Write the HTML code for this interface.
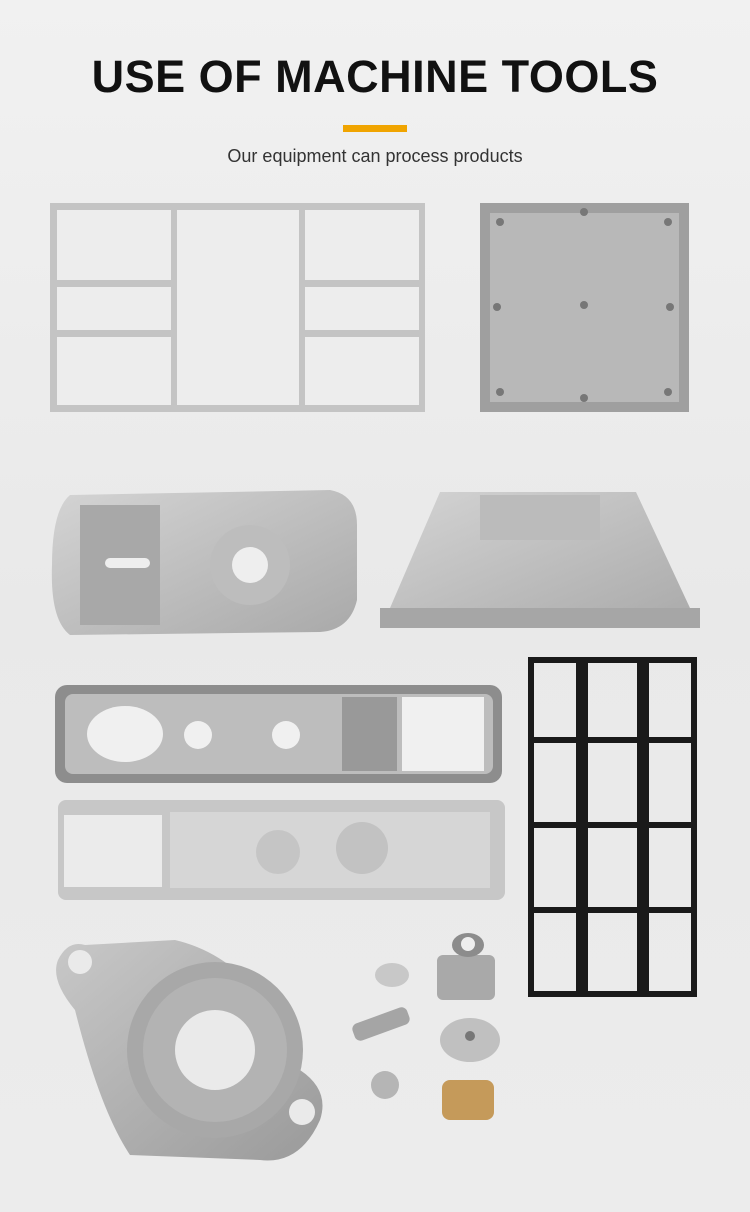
<!DOCTYPE html>
<html><head><meta charset="utf-8"><style>
html,body{margin:0;padding:0;}
body{width:750px;height:1212px;background:linear-gradient(#f1f1f1,#e9e9e9 50%,#ececec);position:relative;overflow:hidden;font-family:"Liberation Sans",sans-serif;}
h1{position:absolute;top:44px;left:0;width:750px;text-align:center;margin:0;font-size:45px;font-weight:700;color:#111;letter-spacing:0.5px;line-height:66px;}
.bar{position:absolute;left:343px;top:125px;width:64px;height:7px;background:#f0a400;}
.sub{position:absolute;top:146px;left:0;width:750px;text-align:center;font-size:18px;color:#333;}
svg{position:absolute;left:0;top:0;}
</style></head><body>
<h1>USE OF MACHINE TOOLS</h1>
<div class="bar"></div>
<div class="sub">Our equipment can process products</div>
<svg width="750" height="1212" viewBox="0 0 750 1212">
<defs>
<linearGradient id="m" x1="0" y1="0" x2="1" y2="1"><stop offset="0" stop-color="#d4d4d4"/><stop offset="1" stop-color="#a9a9a9"/></linearGradient>
<linearGradient id="m2" x1="0" y1="0" x2="1" y2="1"><stop offset="0" stop-color="#c8c8c8"/><stop offset="1" stop-color="#9a9a9a"/></linearGradient>
</defs>
<rect x="50" y="203" width="375" height="209" fill="#c4c4c4"/>
<g fill="#ededed">
<rect x="57" y="210" width="114" height="70"/><rect x="57" y="287" width="114" height="43"/><rect x="57" y="337" width="114" height="68"/>
<rect x="177" y="210" width="122" height="195"/>
<rect x="305" y="210" width="114" height="70"/><rect x="305" y="287" width="114" height="43"/><rect x="305" y="337" width="114" height="68"/>
</g>
<rect x="480" y="203" width="209" height="209" fill="#9f9f9f"/>
<rect x="490" y="213" width="189" height="189" fill="#b8b8b8"/>
<g fill="#777"><circle cx="500" cy="222" r="4"/><circle cx="668" cy="222" r="4"/><circle cx="500" cy="392" r="4"/><circle cx="668" cy="392" r="4"/><circle cx="584" cy="212" r="4"/><circle cx="584" cy="398" r="4"/><circle cx="584" cy="305" r="4"/><circle cx="497" cy="307" r="4"/><circle cx="670" cy="307" r="4"/></g>
<path d="M70 495 L330 490 Q357 495 357 525 L357 600 Q350 630 320 632 L70 635 Q50 620 52 565 Q52 510 70 495Z" fill="url(#m)"/>
<rect x="80" y="505" width="80" height="120" fill="#a8a8a8"/>
<circle cx="250" cy="565" r="40" fill="#bdbdbd"/><circle cx="250" cy="565" r="18" fill="#eeeeee"/>
<rect x="105" y="558" width="45" height="10" rx="5" fill="#eee"/>
<path d="M440 492 L636 492 L690 608 L700 628 L380 628 L390 608Z" fill="url(#m)"/>
<rect x="480" y="495" width="120" height="45" fill="#bbb"/>
<rect x="380" y="608" width="320" height="20" fill="#a6a6a6"/>
<rect x="55" y="685" width="447" height="98" rx="12" fill="#8d8d8d"/>
<rect x="65" y="694" width="428" height="80" rx="8" fill="#bdbdbd"/>
<ellipse cx="125" cy="734" rx="38" ry="28" fill="#f0f0f0"/>
<circle cx="198" cy="735" r="14" fill="#f0f0f0"/><circle cx="286" cy="735" r="14" fill="#f0f0f0"/>
<rect x="342" y="697" width="55" height="74" fill="#999"/><rect x="402" y="697" width="82" height="74" fill="#f0f0f0"/>
<rect x="58" y="800" width="447" height="100" rx="8" fill="#c7c7c7"/>
<rect x="64" y="815" width="98" height="72" fill="#ebebeb"/>
<rect x="170" y="812" width="320" height="76" fill="#d6d6d6"/>
<circle cx="278" cy="852" r="22" fill="#c5c5c5"/><circle cx="362" cy="848" r="26" fill="#c2c2c2"/>
<g fill="none" stroke="#1a1a1a" stroke-width="6">
<rect x="531" y="660" width="163" height="334"/>
<line x1="531" y1="740" x2="694" y2="740"/><line x1="531" y1="825" x2="694" y2="825"/><line x1="531" y1="910" x2="694" y2="910"/>
</g>
<g fill="#1a1a1a"><rect x="576" y="660" width="12" height="334"/><rect x="637" y="660" width="12" height="334"/></g>
<path d="M85 945 L175 940 Q260 960 300 1070 Q330 1090 320 1120 Q300 1165 260 1160 L130 1155 Q100 1110 75 1010 Q50 980 58 960 Q68 940 85 945Z" fill="url(#m2)"/>
<circle cx="215" cy="1050" r="88" fill="#a8a8a8"/>
<circle cx="215" cy="1050" r="72" fill="#b3b3b3"/>
<circle cx="215" cy="1050" r="40" fill="#eaeaea"/>
<circle cx="80" cy="962" r="12" fill="#eaeaea"/><circle cx="302" cy="1112" r="13" fill="#eaeaea"/>
<ellipse cx="392" cy="975" rx="17" ry="12" fill="#c8c8c8"/>
<rect x="437" y="955" width="58" height="45" rx="6" fill="#a9a9a9"/><ellipse cx="468" cy="945" rx="16" ry="12" fill="#8c8c8c"/><circle cx="468" cy="944" r="7" fill="#eee"/>
<rect x="352" y="1015" width="58" height="18" rx="6" fill="#a5a5a5" transform="rotate(-20 381 1024)"/>
<ellipse cx="470" cy="1040" rx="30" ry="22" fill="#c0c0c0"/><circle cx="470" cy="1036" r="5" fill="#777"/>
<ellipse cx="385" cy="1085" rx="14" ry="14" fill="#b5b5b5"/>
<rect x="442" y="1080" width="52" height="40" rx="8" fill="#c59a5a"/>
</svg>
</body></html>
